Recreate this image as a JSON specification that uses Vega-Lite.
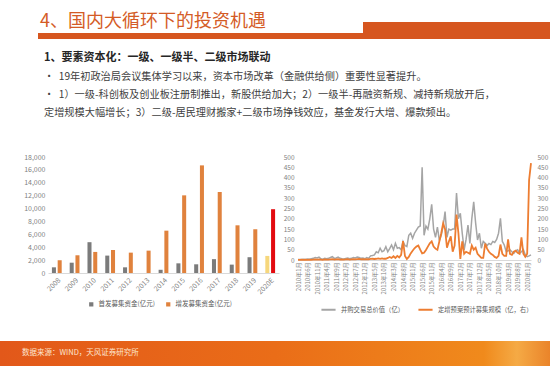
{
  "$schema": "https://vega.github.io/schema/vega-lite/v6.json",
  "padding": 0,
  "background": "white",
  "bounds": "flush",
  "spacing": 0,
  "config": {
    "view": {"stroke": null},
    "font": "Noto Sans CJK SC",
    "axis": {"labelFont": "Noto Sans CJK SC", "labelColor": "#7f7f7f", "ticks": false, "grid": false, "domain": false},
    "legend": {"labelFont": "Noto Sans CJK SC", "labelColor": "#595959", "labelFontSize": 6.5}
  },
  "vconcat": [
    {
      "width": 550, "height": 22,
      "view": {"fill": "white", "stroke": null},
      "data": {"values": []},
      "mark": {"type": "point", "opacity": 0},
      "encoding": {}
    },
    {
      "width": 550, "height": 11,
      "view": {"stroke": null, "fill": {"gradient": "linear", "x1": 0, "y1": 0, "x2": 1, "y2": 0, "stops": [{"offset": 0, "color": "#ffffff"}, {"offset": 0.66, "color": "#ffffff"}, {"offset": 0.66, "color": "#d6561f"}, {"offset": 1, "color": "#d6561f"}]}},
      "title": {"text": "4、国内大循环下的投资机遇", "anchor": "start", "frame": "group", "orient": "top", "offset": -9, "dx": 40, "fontSize": 18, "fontWeight": "normal", "color": "#d45b26", "font": "Noto Sans CJK SC"},
      "data": {"values": []},
      "mark": {"type": "point", "opacity": 0},
      "encoding": {}
    },
    {
      "width": 550, "height": 6,
      "view": {"stroke": null, "fill": {"gradient": "linear", "x1": 0, "y1": 0, "x2": 1, "y2": 0, "stops": [{"offset": 0, "color": "#ffffff"}, {"offset": 0.069, "color": "#ffffff"}, {"offset": 0.069, "color": "#d6561f"}, {"offset": 1, "color": "#d6561f"}]}},
      "data": {"values": []},
      "mark": {"type": "point", "opacity": 0},
      "encoding": {}
    },
    {
      "width": 550, "height": 118,
      "view": {"stroke": null},
      "title": {
        "text": "1、要素资本化：一级、一级半、二级市场联动",
        "subtitle": ["•\u00a0\u00a019年初政治局会议集体学习以来，资本市场改革（金融供给侧）重要性显著提升。", "•\u00a0\u00a01）一级-科创板及创业板注册制推出，新股供给加大；2）一级半-再融资新规、减持新规放开后，", "\u00a0\u00a0\u00a0\u00a0定增规模大幅增长；3）二级-居民理财搬家+二级市场挣钱效应，基金发行大增、爆款频出。"],
        "anchor": "start", "frame": "group", "orient": "top", "offset": -79, "dx": 44,
        "fontSize": 11, "fontWeight": "bold", "color": "#262626", "font": "Noto Sans CJK SC",
        "subtitleFont": "Noto Sans CJK SC", "subtitleFontSize": 10.2, "subtitleColor": "#404040", "subtitleLineHeight": 18, "subtitlePadding": 9
      },
      "data": {"values": []},
      "mark": {"type": "point", "opacity": 0},
      "encoding": {}
    },
    {
      "width": 550, "height": 116,
      "view": {"stroke": null},
      "layer": [
        {
          "data": {"values": [
            {"year": "2008", "s": "首发募集资金(亿元)", "v": 880},
            {"year": "2008", "s": "增发募集资金(亿元)", "v": 1980},
            {"year": "2009", "s": "首发募集资金(亿元)", "v": 1600},
            {"year": "2009", "s": "增发募集资金(亿元)", "v": 2750},
            {"year": "2010", "s": "首发募集资金(亿元)", "v": 4780},
            {"year": "2010", "s": "增发募集资金(亿元)", "v": 3270},
            {"year": "2011", "s": "首发募集资金(亿元)", "v": 2700},
            {"year": "2011", "s": "增发募集资金(亿元)", "v": 3570},
            {"year": "2012", "s": "首发募集资金(亿元)", "v": 880},
            {"year": "2012", "s": "增发募集资金(亿元)", "v": 3160},
            {"year": "2013", "s": "首发募集资金(亿元)", "v": 0},
            {"year": "2013", "s": "增发募集资金(亿元)", "v": 3470},
            {"year": "2014", "s": "首发募集资金(亿元)", "v": 500},
            {"year": "2014", "s": "增发募集资金(亿元)", "v": 6570},
            {"year": "2015", "s": "首发募集资金(亿元)", "v": 1500},
            {"year": "2015", "s": "增发募集资金(亿元)", "v": 12050},
            {"year": "2016", "s": "首发募集资金(亿元)", "v": 1350},
            {"year": "2016", "s": "增发募集资金(亿元)", "v": 16700},
            {"year": "2017", "s": "首发募集资金(亿元)", "v": 2150},
            {"year": "2017", "s": "增发募集资金(亿元)", "v": 12570},
            {"year": "2018", "s": "首发募集资金(亿元)", "v": 1300},
            {"year": "2018", "s": "增发募集资金(亿元)", "v": 7400},
            {"year": "2019", "s": "首发募集资金(亿元)", "v": 2450},
            {"year": "2019", "s": "增发募集资金(亿元)", "v": 6780},
            {"year": "2020E", "s": "首发募集资金(亿元)", "v": 2650},
            {"year": "2020E", "s": "增发募集资金(亿元)", "v": 9900}
          ]},
          "mark": {"type": "bar"},
          "encoding": {
            "x": {"field": "year", "type": "ordinal", "sort": null,
              "scale": {"range": [48, 279], "paddingInner": 0.45, "paddingOuter": 0.22},
              "axis": {"title": null, "labelAngle": -45, "labelFontSize": 7, "domain": true, "domainColor": "#d9d9d9", "labelPadding": 3}},
            "xOffset": {"field": "s", "type": "nominal", "sort": null, "scale": {"paddingInner": 0.3}},
            "y": {"field": "v", "type": "quantitative", "scale": {"domain": [0, 18000]},
              "axis": {"title": null, "orient": "left", "offset": -48, "values": [0, 2000, 4000, 6000, 8000, 10000, 12000, 14000, 16000, 18000], "labelExpr": "format(datum.value, ',.0f')", "labelFontSize": 7, "labelPadding": 3}},
            "color": {"field": "s", "type": "nominal",
              "scale": {"domain": ["首发募集资金(亿元)", "增发募集资金(亿元)"], "range": ["#7b7b7b", "#e0823d"]},
              "legend": {"title": null, "orient": "none", "legendX": 88, "legendY": 144, "direction": "horizontal", "symbolType": "square", "symbolSize": 18, "columnPadding": 10, "labelFontSize": 6.5},
              "condition": [
                {"test": "datum.year === '2020E' && datum.s === '首发募集资金(亿元)'", "value": "#f6d77c"},
                {"test": "datum.year === '2020E' && datum.s === '增发募集资金(亿元)'", "value": "#e30b10"}
              ]}
          }
        },
        {
          "data": {"values": [
            {"m": "2010年1月", "g": 2, "o": 1}, {"m": "2010年2月", "g": 3, "o": 1}, {"m": "2010年3月", "g": 2, "o": 2}, {"m": "2010年4月", "g": 4, "o": 1},
            {"m": "2010年5月", "g": 3, "o": 2}, {"m": "2010年6月", "g": 5, "o": 1}, {"m": "2010年7月", "g": 4, "o": 2}, {"m": "2010年8月", "g": 6, "o": 1},
            {"m": "2010年9月", "g": 8, "o": 2}, {"m": "2010年10月", "g": 12, "o": 3}, {"m": "2010年11月", "g": 10, "o": 2}, {"m": "2010年12月", "g": 14, "o": 3},
            {"m": "2011年1月", "g": 6, "o": 2}, {"m": "2011年2月", "g": 4, "o": 1}, {"m": "2011年3月", "g": 8, "o": 3}, {"m": "2011年4月", "g": 6, "o": 2},
            {"m": "2011年5月", "g": 8, "o": 2}, {"m": "2011年6月", "g": 12, "o": 3}, {"m": "2011年7月", "g": 16, "o": 4}, {"m": "2011年8月", "g": 8, "o": 2},
            {"m": "2011年9月", "g": 10, "o": 3}, {"m": "2011年10月", "g": 14, "o": 4}, {"m": "2011年11月", "g": 8, "o": 2}, {"m": "2011年12月", "g": 6, "o": 3},
            {"m": "2012年1月", "g": 5, "o": 2}, {"m": "2012年2月", "g": 8, "o": 3}, {"m": "2012年3月", "g": 10, "o": 4}, {"m": "2012年4月", "g": 6, "o": 2},
            {"m": "2012年5月", "g": 8, "o": 3}, {"m": "2012年6月", "g": 12, "o": 4}, {"m": "2012年7月", "g": 10, "o": 3}, {"m": "2012年8月", "g": 14, "o": 4},
            {"m": "2012年9月", "g": 12, "o": 5}, {"m": "2012年10月", "g": 8, "o": 3}, {"m": "2012年11月", "g": 10, "o": 4}, {"m": "2012年12月", "g": 6, "o": 3},
            {"m": "2013年1月", "g": 12, "o": 4}, {"m": "2013年2月", "g": 8, "o": 3}, {"m": "2013年3月", "g": 20, "o": 5}, {"m": "2013年4月", "g": 22, "o": 6},
            {"m": "2013年5月", "g": 25, "o": 5}, {"m": "2013年6月", "g": 40, "o": 6}, {"m": "2013年7月", "g": 35, "o": 8}, {"m": "2013年8月", "g": 57, "o": 6},
            {"m": "2013年9月", "g": 40, "o": 8}, {"m": "2013年10月", "g": 45, "o": 6}, {"m": "2013年11月", "g": 65, "o": 6}, {"m": "2013年12月", "g": 40, "o": 10},
            {"m": "2014年1月", "g": 55, "o": 15}, {"m": "2014年2月", "g": 73, "o": 10}, {"m": "2014年3月", "g": 50, "o": 18}, {"m": "2014年4月", "g": 81, "o": 10},
            {"m": "2014年5月", "g": 57, "o": 20}, {"m": "2014年6月", "g": 60, "o": 12}, {"m": "2014年7月", "g": 50, "o": 25}, {"m": "2014年8月", "g": 90, "o": 92},
            {"m": "2014年9月", "g": 70, "o": 20}, {"m": "2014年10月", "g": 65, "o": 5}, {"m": "2014年11月", "g": 120, "o": 15}, {"m": "2014年12月", "g": 130, "o": 32},
            {"m": "2015年1月", "g": 105, "o": 45}, {"m": "2015年2月", "g": 130, "o": 57}, {"m": "2015年3月", "g": 145, "o": 65}, {"m": "2015年4月", "g": 160, "o": 70},
            {"m": "2015年5月", "g": 165, "o": 50}, {"m": "2015年6月", "g": 450, "o": 32}, {"m": "2015年7月", "g": 120, "o": 35}, {"m": "2015年8月", "g": 165, "o": 49},
            {"m": "2015年9月", "g": 150, "o": 65}, {"m": "2015年10月", "g": 200, "o": 81}, {"m": "2015年11月", "g": 270, "o": 90}, {"m": "2015年12月", "g": 150, "o": 65},
            {"m": "2016年1月", "g": 110, "o": 55}, {"m": "2016年2月", "g": 160, "o": 49}, {"m": "2016年3月", "g": 95, "o": 90}, {"m": "2016年4月", "g": 120, "o": 130},
            {"m": "2016年5月", "g": 165, "o": 178}, {"m": "2016年6月", "g": 235, "o": 150}, {"m": "2016年7月", "g": 110, "o": 60}, {"m": "2016年8月", "g": 150, "o": 90},
            {"m": "2016年9月", "g": 145, "o": 115}, {"m": "2016年10月", "g": 150, "o": 40}, {"m": "2016年11月", "g": 150, "o": 70}, {"m": "2016年12月", "g": 325, "o": 220},
            {"m": "2017年1月", "g": 200, "o": 130}, {"m": "2017年2月", "g": 227, "o": 5}, {"m": "2017年3月", "g": 130, "o": 90}, {"m": "2017年4月", "g": 49, "o": 30},
            {"m": "2017年5月", "g": 100, "o": 40}, {"m": "2017年6月", "g": 170, "o": 35}, {"m": "2017年7月", "g": 80, "o": 30}, {"m": "2017年8月", "g": 200, "o": 70},
            {"m": "2017年9月", "g": 282, "o": 50}, {"m": "2017年10月", "g": 180, "o": 60}, {"m": "2017年11月", "g": 97, "o": 30}, {"m": "2017年12月", "g": 130, "o": 20},
            {"m": "2018年1月", "g": 57, "o": 10}, {"m": "2018年2月", "g": 90, "o": 10}, {"m": "2018年3月", "g": 81, "o": 80}, {"m": "2018年4月", "g": 70, "o": 55},
            {"m": "2018年5月", "g": 80, "o": 40}, {"m": "2018年6月", "g": 75, "o": 30}, {"m": "2018年7月", "g": 90, "o": 25}, {"m": "2018年8月", "g": 85, "o": 15},
            {"m": "2018年9月", "g": 100, "o": 10}, {"m": "2018年10月", "g": 130, "o": 20}, {"m": "2018年11月", "g": 202, "o": 75}, {"m": "2018年12月", "g": 90, "o": 30},
            {"m": "2019年1月", "g": 73, "o": 20}, {"m": "2019年2月", "g": 40, "o": 20}, {"m": "2019年3月", "g": 45, "o": 100}, {"m": "2019年4月", "g": 49, "o": 30},
            {"m": "2019年5月", "g": 40, "o": 25}, {"m": "2019年6月", "g": 32, "o": 40}, {"m": "2019年7月", "g": 45, "o": 45}, {"m": "2019年8月", "g": 50, "o": 35},
            {"m": "2019年9月", "g": 32, "o": 30}, {"m": "2019年10月", "g": 40, "o": 110}, {"m": "2019年11月", "g": 50, "o": 30}, {"m": "2019年12月", "g": 25, "o": 15},
            {"m": "2020年1月", "g": 16, "o": 30}, {"m": "2020年2月", "g": 20, "o": 388}, {"m": "2020年3月", "g": 25, "o": 470}
          ]},
          "encoding": {
            "x": {"field": "m", "type": "ordinal", "sort": null,
              "scale": {"type": "point", "range": [298, 531], "padding": 0},
              "axis": {"title": null, "orient": "bottom", "offset": -13, "labelAngle": 270, "labelFontSize": 6, "labelPadding": 2, "labelOverlap": false, "domain": true, "domainColor": "#d9d9d9",
                "values": ["2010年1月", "2010年6月", "2010年11月", "2011年4月", "2011年9月", "2012年2月", "2012年7月", "2012年12月", "2013年5月", "2013年10月", "2014年3月", "2014年8月", "2015年1月", "2015年6月", "2015年11月", "2016年4月", "2016年9月", "2017年2月", "2017年7月", "2017年12月", "2018年5月", "2018年10月", "2019年3月", "2019年8月", "2020年1月"]}}
          },
          "layer": [
            {
              "mark": {"type": "line", "strokeWidth": 1.5},
              "encoding": {
                "y": {"field": "g", "type": "quantitative", "scale": {"domain": [0, 500], "range": [103, 0]},
                  "axis": {"title": null, "orient": "left", "offset": -298, "values": [0, 50, 100, 150, 200, 250, 300, 350, 400, 450, 500], "labelFontSize": 6.5, "labelPadding": 4}},
                "color": {"datum": "并购交易总价值（亿）", "type": "nominal",
                  "scale": {"domain": ["并购交易总价值（亿）", "定增预案预计募集规模（亿，右）"], "range": ["#a5a5a5", "#ed7d31"]},
                  "legend": {"title": null, "orient": "none", "legendX": 320, "legendY": 144, "direction": "horizontal", "symbolType": "stroke", "symbolStrokeWidth": 2, "symbolSize": 200, "columnPadding": 10, "labelFontSize": 6.3}}
              }
            },
            {
              "mark": {"type": "line", "strokeWidth": 1.8},
              "encoding": {
                "y": {"field": "o", "type": "quantitative", "scale": {"domain": [0, 500], "range": [103, 0]},
                  "axis": {"title": null, "orient": "right", "offset": -18, "values": [0, 50, 100, 150, 200, 250, 300, 350, 400, 450, 500], "labelFontSize": 6.5, "labelPadding": 5}},
                "color": {"datum": "定增预案预计募集规模（亿，右）", "type": "nominal"}
              }
            }
          ],
          "resolve": {"scale": {"y": "independent"}}
        }
      ],
      "resolve": {"scale": {"x": "independent", "y": "independent", "color": "independent"}, "legend": {"color": "independent"}}
    },
    {
      "width": 550, "height": 68,
      "view": {"stroke": null},
      "data": {"values": []},
      "mark": {"type": "point", "opacity": 0},
      "encoding": {}
    },
    {
      "width": 550, "height": 25,
      "view": {"stroke": null, "fill": {"gradient": "linear", "x1": 0, "y1": 0, "x2": 1, "y2": 0, "stops": [{"offset": 0, "color": "#e2581a"}, {"offset": 0.5, "color": "#ea6d18"}, {"offset": 0.88, "color": "#f08a1c"}, {"offset": 0.94, "color": "#f5aa45"}, {"offset": 1, "color": "#ea842a"}]}},
      "title": {"text": "数据来源：WIND，天风证券研究所", "anchor": "start", "frame": "group", "orient": "top", "offset": -15, "dx": 22, "fontSize": 7.5, "fontWeight": "normal", "color": "#fde6cf", "font": "Noto Sans CJK SC"},
      "data": {"values": []},
      "mark": {"type": "point", "opacity": 0},
      "encoding": {}
    }
  ]
}
